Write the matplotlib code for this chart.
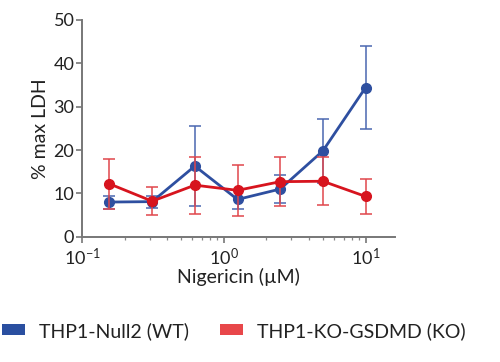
import matplotlib
matplotlib.use("Agg")
import matplotlib.pyplot as plt
from matplotlib.patches import Patch
from matplotlib.ticker import LogLocator, NullFormatter

plt.rcParams['font.family'] = ['Lato', 'DejaVu Sans']

conc = [0.156, 0.3125, 0.625, 1.25, 2.5, 5, 10]
wt_mean = [8.0, 8.1, 16.3, 8.6, 11.0, 19.8, 34.4]
wt_err = [1.5, 1.4, 9.2, 2.2, 3.3, 7.4, 9.5]
ko_mean = [12.2, 8.2, 11.9, 10.7, 12.7, 12.8, 9.3]
ko_err = [5.7, 3.2, 6.6, 5.9, 5.7, 5.5, 4.1]
labels = ["THP1-Null2 (WT)", "THP1-KO-GSDMD (KO)"]

blue = "#2e4fa0"
red = "#d7141e"
blue_l = "#4a67b0"
red_l = "#e0474c"
fs_tick = 13
fs = 14

fig = plt.figure(figsize=(5, 3.62), dpi=100)
ax = fig.add_axes([0.164, 0.346, 0.625, 0.599])

ax.errorbar(conc, wt_mean, yerr=wt_err, color=blue, ecolor=blue_l, elinewidth=1.1,
            capsize=4, capthick=1.1, lw=2.0, marker='o', ms=7, zorder=3)
ax.errorbar(conc, ko_mean, yerr=ko_err, color=red, ecolor=red_l, elinewidth=1.1,
            capsize=4, capthick=1.1, lw=2.0, marker='o', ms=7, zorder=4)

ax.set_xscale('log')
ax.set_xlim(0.1, 16)
ax.set_ylim(0, 50)
ax.set_yticks([0, 10, 20, 30, 40, 50])
ax.xaxis.set_major_locator(LogLocator(base=10, numticks=5))
ax.xaxis.set_minor_locator(LogLocator(base=10, subs=range(2, 10), numticks=20))
ax.xaxis.set_minor_formatter(NullFormatter())

for s in ['top', 'right']:
    ax.spines[s].set_visible(False)
for s in ['left', 'bottom']:
    ax.spines[s].set_color('#777777')
    ax.spines[s].set_linewidth(1.4)
ax.tick_params(which='major', length=4, width=1.2, color='#777777', labelsize=fs_tick, labelcolor='#222222')
ax.tick_params(axis='y', which='major', pad=1.5)
ax.tick_params(axis='x', which='major', pad=3)
ax.tick_params(which='minor', length=2.5, width=0.9, color='#888888')

ax.set_xlabel("Nigericin (µM)", fontsize=fs, color='#222222', labelpad=0)
ax.set_ylabel("% max LDH", fontsize=fs, color='#222222', labelpad=3)

handles = [Patch(facecolor="#2a4fa0", edgecolor='none'), Patch(facecolor="#e8474a", edgecolor='none')]
fig.legend(handles, labels, loc='center left', bbox_to_anchor=(0.004, 0.086), ncol=2,
           frameon=False, fontsize=fs, handlelength=1.2, handleheight=0.5,
           columnspacing=1.6, handletextpad=0.7, labelcolor='#222222',
           borderaxespad=0, borderpad=0)

fig.savefig("out.png", dpi=100)
